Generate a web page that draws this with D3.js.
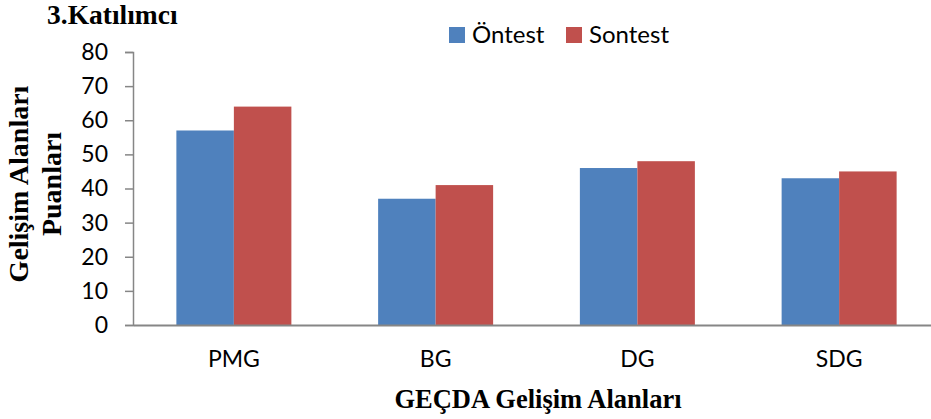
<!DOCTYPE html>
<html><head><meta charset="utf-8">
<script src="https://cdn.jsdelivr.net/npm/d3@7"></script>
<style>body{margin:0;background:#fff}svg{display:block}</style>
</head><body>
<script>
const categories = ["PMG", "BG", "DG", "SDG"];
const seriesNames = ["Öntest", "Sontest"];
const ontest = [57, 37, 46, 43];
const sontest = [64, 41, 48, 45];
const yTicks = [0, 10, 20, 30, 40, 50, 60, 70, 80];
const colors = ["#4F81BD", "#C0504D"];

const W = 931, H = 419;
const svg = d3.select("body").append("svg").attr("width", W).attr("height", H);

const x = d3.scaleBand().domain(categories).range([133, 940]).paddingInner(0).paddingOuter(0);
const y = d3.scaleLinear().domain([0, 80]).range([325, 52]);
const barW = x.bandwidth() * 0.285;
const series = [ontest, sontest];

// bars
series.forEach((vals, si) => {
  svg.append("g").selectAll("rect").data(vals).join("rect")
    .attr("x", (d, i) => x(categories[i]) + x.bandwidth() / 2 - barW + si * barW)
    .attr("y", d => y(d))
    .attr("width", barW)
    .attr("height", d => y(0) - y(d))
    .attr("fill", colors[si]);
});

const sans = "Lato, 'Open Sans', sans-serif";
const serif = "'Liberation Serif', 'Times New Roman', serif";

// y axis
const yAxis = svg.append("g").attr("transform", "translate(133,0)")
  .call(d3.axisLeft(y).tickValues(yTicks).tickSize(8).tickPadding(17));
yAxis.select(".domain").attr("stroke", "#868686").attr("stroke-width", 1.5);
yAxis.selectAll(".tick line").attr("stroke", "#868686").attr("stroke-width", 1.5);
yAxis.selectAll(".tick text").attr("font-family", sans).attr("font-size", 23).attr("fill", "#000");

// x axis
const xAxis = svg.append("g").attr("transform", "translate(0,325)")
  .call(d3.axisBottom(x).tickSize(0));
xAxis.select(".domain").attr("stroke", "#868686").attr("stroke-width", 2);
xAxis.selectAll(".tick text").attr("font-family", sans).attr("font-size", 23).attr("fill", "#000")
  .attr("y", 42).attr("dy", 0);

// title
svg.append("text").attr("x", 47).attr("y", 24).text("3.Katılımcı")
  .attr("font-family", serif).attr("font-weight", "bold").attr("font-size", 27.5);

// legend
const leg = svg.append("g");
const legX = [449, 566];
seriesNames.forEach((n, i) => {
  leg.append("rect").attr("x", legX[i]).attr("y", 27).attr("width", 16).attr("height", 16).attr("fill", colors[i]);
  leg.append("text").attr("x", legX[i] + 23).attr("y", 43).text(n)
    .attr("font-family", sans).attr("font-size", 24);
});

// y axis title
const yt = svg.append("text").attr("transform", "translate(0,184) rotate(-90)")
  .attr("text-anchor", "middle").attr("font-family", serif)
  .attr("font-weight", "bold").attr("font-size", 28);
yt.append("tspan").attr("x", 0).attr("y", 28).text("Gelişim Alanları");
yt.append("tspan").attr("x", 0).attr("y", 61).text("Puanları");

// x axis title
svg.append("text").attr("x", 538).attr("y", 408).attr("text-anchor", "middle").text("GEÇDA Gelişim Alanları")
  .attr("font-family", serif).attr("font-weight", "bold").attr("font-size", 26.5);
</script>
</body></html>
